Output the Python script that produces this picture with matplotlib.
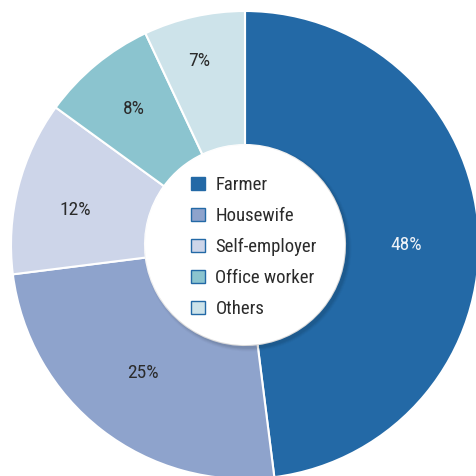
import matplotlib
matplotlib.use("Agg")
import matplotlib.pyplot as plt
from matplotlib import font_manager
from matplotlib.patches import Circle, Patch
import numpy as np

categories = ["Farmer", "Housewife", "Self-employer", "Office worker", "Others"]
values = [48, 25, 12, 8, 7]
colors = ["#2369a6", "#8ea3cc", "#cdd5e9", "#8bc4cf", "#cde3ea"]
label_colors = ["#eef2f7", "#2b2b2b", "#2b2b2b", "#2b2b2b", "#2b2b2b"]
label_radius = [0.69, 0.70, 0.74, 0.75, 0.81]
label_shift_deg = [3.6, 0.9, -2.7, 0.4, -1.5]

names = {f.name for f in font_manager.fontManager.ttflist}
stretch = 'normal'
if "Liberation Sans Narrow" in names:
    fam = ["Liberation Sans Narrow", "DejaVu Sans"]
elif "Roboto Condensed" in names:
    fam = ["Roboto Condensed", "DejaVu Sans"]
else:
    fam = ["DejaVu Sans"]
    stretch = 'condensed'
plt.rcParams['font.family'] = fam
plt.rcParams['font.stretch'] = stretch

fig = plt.figure(figsize=(4.76, 4.76), dpi=100)
ax = fig.add_axes([0, 0, 1, 1])
R_px = 234.0
cx, cy = 245.0, 245.0

hole = 100.0 / R_px
wedges, _ = ax.pie(values, colors=colors, startangle=90, counterclock=False,
                   radius=1.0, wedgeprops=dict(width=1 - hole, edgecolor='white', linewidth=1.5))
ax.set_xlim(-cx / R_px, (476 - cx) / R_px)
ax.set_ylim(-(476 - cy) / R_px, cy / R_px)
ax.set_aspect('equal')
ax.axis('off')

# percentage labels
total = sum(values)
start = 0.0  # clockwise from top
for v, c, r, s in zip(values, label_colors, label_radius, label_shift_deg):
    cw = start + 360.0 * v / total / 2 + s
    ang = np.deg2rad(90.0 - cw)
    ax.text(r * np.cos(ang), r * np.sin(ang), f"{v}%", ha='center', va='center',
            fontsize=14, color=c)
    start += 360.0 * v / total

# subtle shadow of the centre hole
for i, a in enumerate([0.05, 0.04, 0.03, 0.02]):
    ax.add_patch(Circle((0.012, -0.012), hole + 0.004 * (i + 1), facecolor='black',
                        alpha=a, edgecolor='none', zorder=3))
ax.add_patch(Circle((0, 0), hole, facecolor='white', edgecolor='none', zorder=4))

handles = [Patch(facecolor=c, edgecolor="#2369a6", linewidth=1.0) for c in colors]
leg = ax.legend(handles, categories, loc='center',
                bbox_to_anchor=(254 / 476, 1 - 247 / 476),
                frameon=False, fontsize=13.5, handlelength=0.74, handleheight=0.74,
                handletextpad=0.55, labelspacing=0.69, borderpad=0)
leg.set_zorder(5)
for t in leg.get_texts():
    t.set_color("#2b2b2b")

fig.savefig("out.png", dpi=100)
